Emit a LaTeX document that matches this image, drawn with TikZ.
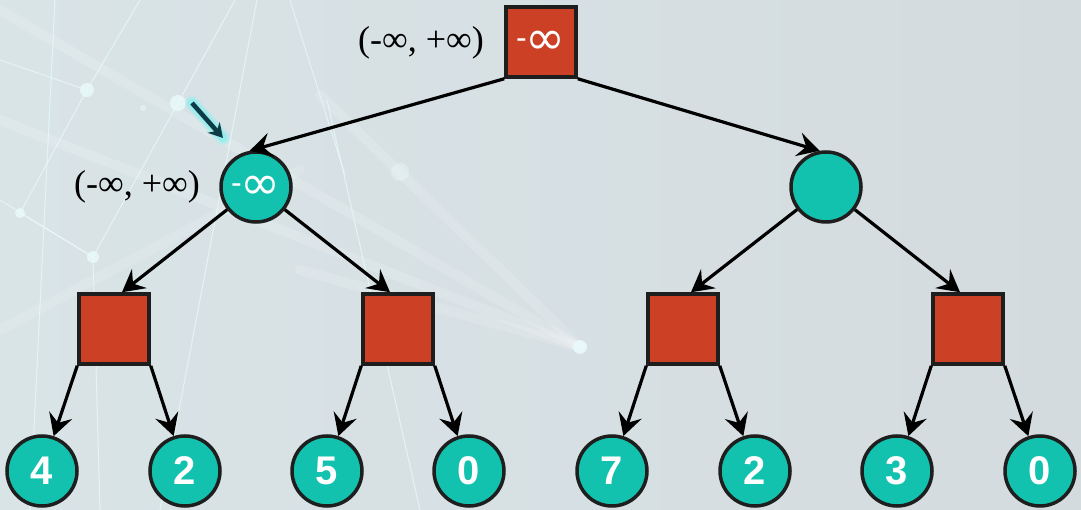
\documentclass[tikz,border=0pt]{standalone}
\usepackage{fontspec}
\setmainfont{Liberation Sans}
\newfontfamily\dejavuf{DejaVu Sans}
\newfontfamily\seriff{Liberation Serif}
\usetikzlibrary{arrows.meta}
\definecolor{minred}{HTML}{CC4125}
\definecolor{maxteal}{HTML}{12C2AE}
\definecolor{bgleft}{HTML}{D9E4E7}
\definecolor{bgright}{HTML}{D4DBDF}
\definecolor{arrowdark}{HTML}{0F3B47}
\definecolor{glowc}{HTML}{7FF0F0}
\definecolor{netc}{HTML}{EAFBFB}
\definecolor{borderc}{HTML}{1E1E1E}
\newcommand\neginfty{\raisebox{6pt}{\fontsize{32}{32}\selectfont -}\kern-1pt{\dejavuf\fontsize{48}{48}\selectfont ∞}}
\begin{document}
\begin{tikzpicture}[x=1pt,y=-1pt,
  minbox/.style={draw=borderc, line width=3.5pt, fill=minred, minimum size=70pt, inner sep=0pt},
  maxnode/.style={circle, draw=borderc, line width=3.5pt, fill=maxteal, minimum size=70pt, inner sep=0pt},
  leafnode/.style={maxnode, text=white, font=\fontsize{40}{40}\selectfont\bfseries},
  inftext/.style={text=white},
  edge/.style={-{Stealth[length=22pt,width=24pt,inset=8pt]}, line width=3.2pt, black},
  lbl/.style={font=\seriff\fontsize{36}{36}\selectfont, text=black, inner sep=0pt},
  streak/.style={netc, opacity=0.7, line width=1pt},
  band/.style={white, opacity=0.15, line width=10pt, line cap=round},
  glowdot/.style={netc, opacity=0.8}]
% background
\useasboundingbox (0,0) rectangle (1081,510);
\shade[left color=bgleft, right color=bgright] (0,0) rectangle (1081,510);
% soft bands converging on a glow point
\coordinate (gp) at (580,347);
\draw[band] (0,10) -- (gp);
\draw[band] (0,120) -- (gp);
\draw[band] (320,95) -- (gp);
\draw[band] (300,270) -- (gp);
\draw[band, opacity=0.12] (0,330) -- (300,170);
% thin network lines
\draw[streak] (20,213) -- (87,90) -- (140,0);
\draw[streak] (93,257) -- (178,103) -- (235,0);
\draw[streak] (20,213) -- (93,257) -- (100,510);
\draw[streak] (0,200) -- (93,257);
\draw[streak] (55,0) -- (30,510);
\draw[streak] (290,0) -- (345,175);
\draw[streak] (257,0) -- (160,510);
\draw[streak] (327,100) -- (420,510);
\draw[streak] (0,60) -- (87,90);
% glow dots
\fill[glowdot] (87,90) circle (7pt);
\fill[glowdot] (178,103) circle (8pt);
\fill[glowdot] (gp) circle (7pt);
\fill[glowdot] (20,213) circle (5pt);
\fill[glowdot] (93,257) circle (6pt);
\fill[glowdot, opacity=0.4] (400,172) circle (9pt);
\fill[glowdot, opacity=0.5] (143,108) circle (3pt);

% nodes
\node[minbox] (root) at (541,42) {};
\node[inftext] at (541,43) {\neginfty};
\node[maxnode] (a) at (256,187) {};
\node[inftext] at (256,188) {\neginfty};
\node[maxnode] (b) at (826,187) {};

\node[minbox] (c1) at (114,329) {};
\node[minbox] (c2) at (398,329) {};
\node[minbox] (c3) at (683,329) {};
\node[minbox] (c4) at (968,329) {};

\node[leafnode] (l1) at (42,471) {4};
\node[leafnode] (l2) at (185,471) {2};
\node[leafnode] (l3) at (327,471) {5};
\node[leafnode] (l4) at (469,471) {0};
\node[leafnode] (l5) at (612,471) {7};
\node[leafnode] (l6) at (755,471) {2};
\node[leafnode] (l7) at (897,471) {3};
\node[leafnode] (l8) at (1040,471) {0};

\node[lbl] (rootlbl) at (421,43) {(-∞, +∞)};
\node[lbl] (albl) at (137,187) {(-∞, +∞)};

% edges
\draw[edge] (root.south west) -- (a.100);
\draw[edge] (root.south east) -- (b.100);
\draw[edge] (a) -- ([xshift=8pt]c1.north);
\draw[edge] (a) -- ([xshift=-8pt]c2.north);
\draw[edge] (b) -- ([xshift=8pt]c3.north);
\draw[edge] (b) -- ([xshift=-8pt]c4.north);
\draw[edge] (c1.south west) -- (l1);
\draw[edge] (c1.south east) -- (l2);
\draw[edge] (c2.south west) -- (l3);
\draw[edge] (c2.south east) -- (l4);
\draw[edge] (c3.south west) -- (l5);
\draw[edge] (c3.south east) -- (l6);
\draw[edge] (c4.south west) -- (l7);
\draw[edge] (c4.south east) -- (l8);

% pointer arrow with glow
\coordinate (ps) at (192,103);
\coordinate (pe) at (223,138);
\draw[glowc, opacity=0.3, line width=14pt, line cap=round] (ps) -- (pe);
\draw[glowc, opacity=0.6, line width=9pt, line cap=round] (ps) -- (pe);
\draw[arrowdark, line width=4.5pt, -{Stealth[length=14pt,width=16pt]}] (ps) -- (pe);
\end{tikzpicture}
\end{document}
